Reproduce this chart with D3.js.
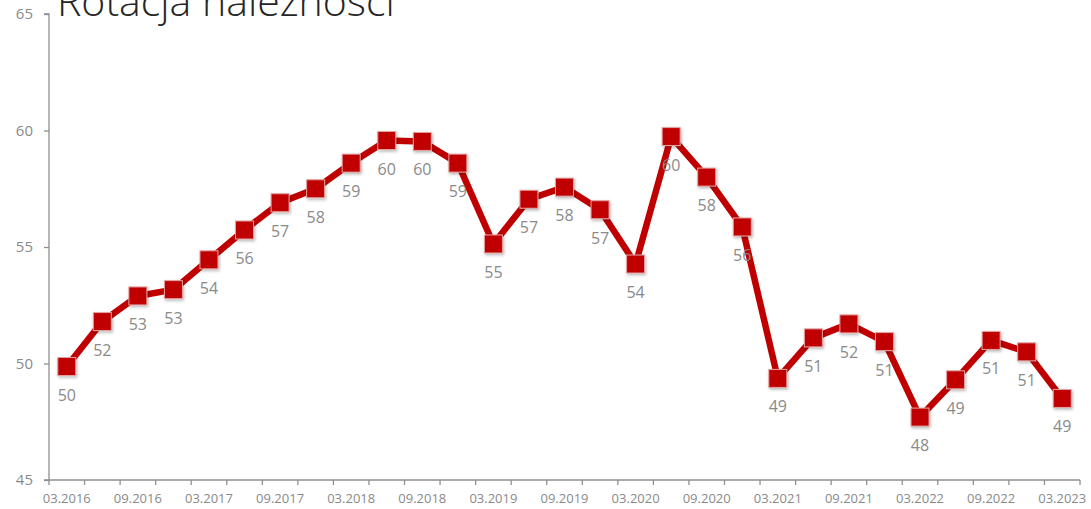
<!DOCTYPE html>
<html><head><meta charset="utf-8">
<style>
body { margin: 0; background: #fff; }
.axis path, .axis line { stroke: #8f8f8f; stroke-width: 1.3; }
.axis text { fill: #8a8a8a; font-family: "Open Sans", sans-serif; }
.axis--x text { font-size: 13px; }
.axis--y text { font-size: 15px; }
.lbl { fill: #8a8a8a; font-family: "Open Sans", sans-serif; font-size: 16px; text-anchor: middle; }
.title { fill: #262626; font-family: "Open Sans", sans-serif; font-weight: 300; font-size: 41px; }
</style>
</head><body>
<svg width="1091" height="509"></svg>
<script src="https://d3js.org/d3.v7.min.js"></script>
<script>

var quarters = ["03.2016","06.2016","09.2016","12.2016","03.2017","06.2017","09.2017","12.2017",
  "03.2018","06.2018","09.2018","12.2018","03.2019","06.2019","09.2019","12.2019",
  "03.2020","06.2020","09.2020","12.2020","03.2021","06.2021","09.2021","12.2021",
  "03.2022","06.2022","09.2022","12.2022","03.2023"];
var rotacja = [49.87, 51.8, 52.9, 53.17, 54.45, 55.73, 56.9, 57.5, 58.6, 59.57, 59.53, 58.6,
  55.13, 57.05, 57.57, 56.6, 54.27, 59.74, 58.0, 55.86, 49.36, 51.1, 51.7, 50.94,
  47.7, 49.3, 50.99, 50.5, 48.5];
var yTicks = [45, 50, 55, 60, 65];

var svg = d3.select("svg"),
    margin = {top: 14, right: 11, bottom: 29, left: 49},
    width = +svg.attr("width") - margin.left - margin.right,
    height = +svg.attr("height") - margin.top - margin.bottom;

var defs = svg.append("defs");
var f = defs.append("filter").attr("id", "shadow")
    .attr("x", "-50%").attr("y", "-50%").attr("width", "200%").attr("height", "200%");
f.append("feDropShadow").attr("dx", 1).attr("dy", 1.5).attr("stdDeviation", 1.5)
    .attr("flood-color", "#000").attr("flood-opacity", 0.3);

var x = d3.scaleBand().domain(quarters).range([0, width]).padding(0),
    y = d3.scaleLinear().domain([45, 65]).range([height, 0]);

var g = svg.append("g")
    .attr("transform", "translate(" + margin.left + "," + margin.top + ")");

// x axis: ticks at band edges, labels every second quarter
var xa = g.append("g")
    .attr("class", "axis axis--x")
    .attr("transform", "translate(0," + height + ")");
xa.append("line").attr("x1", 0).attr("x2", width);
xa.selectAll(".tk")
  .data(d3.range(quarters.length + 1))
  .enter().append("line")
    .attr("class", "tk")
    .attr("x1", function(i) { return i * x.bandwidth(); })
    .attr("x2", function(i) { return i * x.bandwidth(); })
    .attr("y2", 5);
xa.selectAll("text")
  .data(quarters.filter(function(d, i) { return i % 2 === 0; }))
  .enter().append("text")
    .attr("x", function(d) { return x(d) + x.bandwidth() / 2; })
    .attr("y", 23)
    .attr("text-anchor", "middle")
    .text(function(d) { return d; });

g.append("g")
    .attr("class", "axis axis--y")
    .call(d3.axisLeft(y).tickValues(yTicks).tickSize(5).tickPadding(11))
    .call(function(s) { s.select(".domain").attr("d", "M-5," + y(45) + "H0V" + y(65) + "H-5"); });

var line = d3.line()
    .x(function(d, i) { return x(quarters[i]) + x.bandwidth() / 2; })
    .y(function(d) { return y(d); });

g.append("path")
    .datum(rotacja)
    .attr("fill", "none")
    .attr("stroke", "#c00000")
    .attr("stroke-width", 6.5)
    .attr("stroke-linejoin", "round")
    .attr("d", line);

g.selectAll(".pt")
  .data(rotacja)
  .enter().append("rect")
    .attr("class", "pt")
    .attr("x", function(d, i) { return x(quarters[i]) + x.bandwidth() / 2 - 9; })
    .attr("y", function(d) { return y(d) - 9; })
    .attr("width", 18)
    .attr("height", 18)
    .attr("fill", "#c00000")
    .attr("stroke", "#e3a3a3")
    .attr("stroke-width", 1)
    .attr("filter", "url(#shadow)");

g.selectAll(".lbl")
  .data(rotacja)
  .enter().append("text")
    .attr("class", "lbl")
    .attr("x", function(d, i) { return x(quarters[i]) + x.bandwidth() / 2; })
    .attr("y", function(d) { return y(d) + 34; })
    .text(function(d) { return Math.round(d); });

svg.append("text")
    .attr("class", "title")
    .attr("x", 57)
    .attr("y", 16)
    .text("Rotacja należności");

</script>
</body></html>
